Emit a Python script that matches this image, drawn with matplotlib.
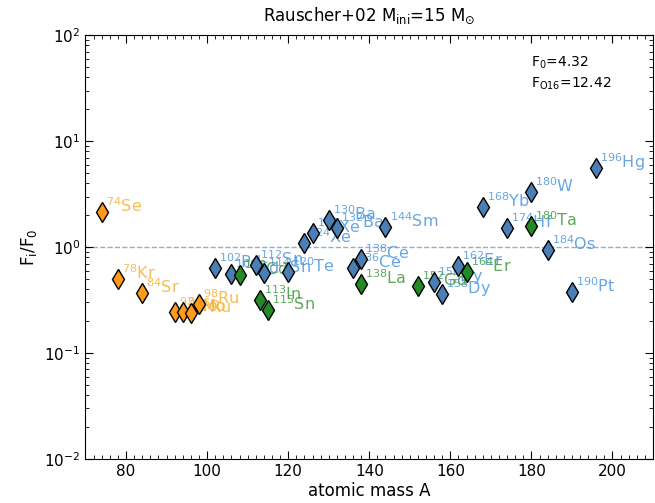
import matplotlib
matplotlib.use('Agg')
import matplotlib.pyplot as plt
from matplotlib.ticker import MultipleLocator, LogLocator, NullFormatter

# p-nuclei, overproduction relative to F0
# orange: light p-nuclei
orange_A = [74, 78, 84, 92, 94, 96, 98]
orange_el = ['Se', 'Kr', 'Sr', 'Mo', 'Mo', 'Ru', 'Ru']
orange_F = [2.15, 0.495, 0.366, 0.245, 0.245, 0.24, 0.29]

# blue
blue_A = [102, 106, 112, 114, 120, 124, 126, 130, 132, 136, 138, 144,
          156, 158, 162, 168, 174, 180, 184, 190, 196]
blue_el = ['Pd', 'Cd', 'Sn', 'Sn', 'Te', 'Xe', 'Xe', 'Ba', 'Ba', 'Ce', 'Ce', 'Sm',
           'Dy', 'Dy', 'Er', 'Yb', 'Hf', 'W', 'Os', 'Pt', 'Hg']
blue_F = [0.64, 0.556, 0.68, 0.565, 0.585, 1.1, 1.35, 1.8, 1.5, 0.63, 0.78, 1.56,
          0.47, 0.36, 0.67, 2.4, 1.5, 3.33, 0.94, 0.38, 5.6]

# green
green_A = [108, 113, 115, 138, 152, 164, 180]
green_el = ['Cd', 'In', 'Sn', 'La', 'Gd', 'Er', 'Ta']
green_F = [0.55, 0.32, 0.255, 0.448, 0.43, 0.58, 1.58]

F0 = 4.32
F_O16 = 12.42

# (A, element, F, marker colour, label colour)
groups = [
    (orange_A, orange_el, orange_F, '#ff9a1a', '#f8b13a'),
    (blue_A, blue_el, blue_F, '#4a7fb5', '#4d97dc'),
    (green_A, green_el, green_F, '#238b23', '#3f9a3f'),
]

fig = plt.figure(figsize=(6.55, 5.03), dpi=100)
ax = fig.add_axes([0.1305, 0.0875, 0.8665, 0.8425])

ax.axhline(1.0, ls='--', color='#8fb0d0', lw=1, zorder=1)

for A, el, F, col, lcol in groups:
    ax.plot(A, F, 'd', color=col, mec='black', mew=1, ms=10, zorder=3, ls='none')
    for a, e, f in zip(A, el, F):
        ax.text(a + 1.0, f, r'$^{\mathrm{%d}}$%s' % (a, e), color=lcol, alpha=0.85,
                fontsize=11.5, ha='left', va='baseline', zorder=2)

ax.set_yscale('log')
ax.set_xlim(70, 210)
ax.set_ylim(1e-2, 1e2)

ax.xaxis.set_major_locator(MultipleLocator(20))
ax.xaxis.set_minor_locator(MultipleLocator(2))
ax.yaxis.set_major_locator(LogLocator(base=10, numticks=10))
ax.yaxis.set_minor_locator(LogLocator(base=10, subs=range(2, 10), numticks=20))
ax.yaxis.set_minor_formatter(NullFormatter())
ax.tick_params(which='both', direction='in', top=True, right=True, labelsize=11)
ax.tick_params(which='major', length=6)
ax.tick_params(which='minor', length=3)

ax.set_xlabel('atomic mass A', fontsize=12, labelpad=2)
ax.set_ylabel(r'F$_\mathrm{i}$/F$_0$', fontsize=12)
ax.set_title(r'Rauscher+02 M$_{\mathrm{ini}}$=15 M$_{\odot}$', fontsize=12, pad=10)

ax.text(0.785, 0.935, r'F$_0$=%.2f' % F0, transform=ax.transAxes, fontsize=10, va='center')
ax.text(0.785, 0.885, r'F$_{\mathrm{O16}}$=%.2f' % F_O16, transform=ax.transAxes, fontsize=10, va='center')

fig.savefig('out.png', dpi=100)
